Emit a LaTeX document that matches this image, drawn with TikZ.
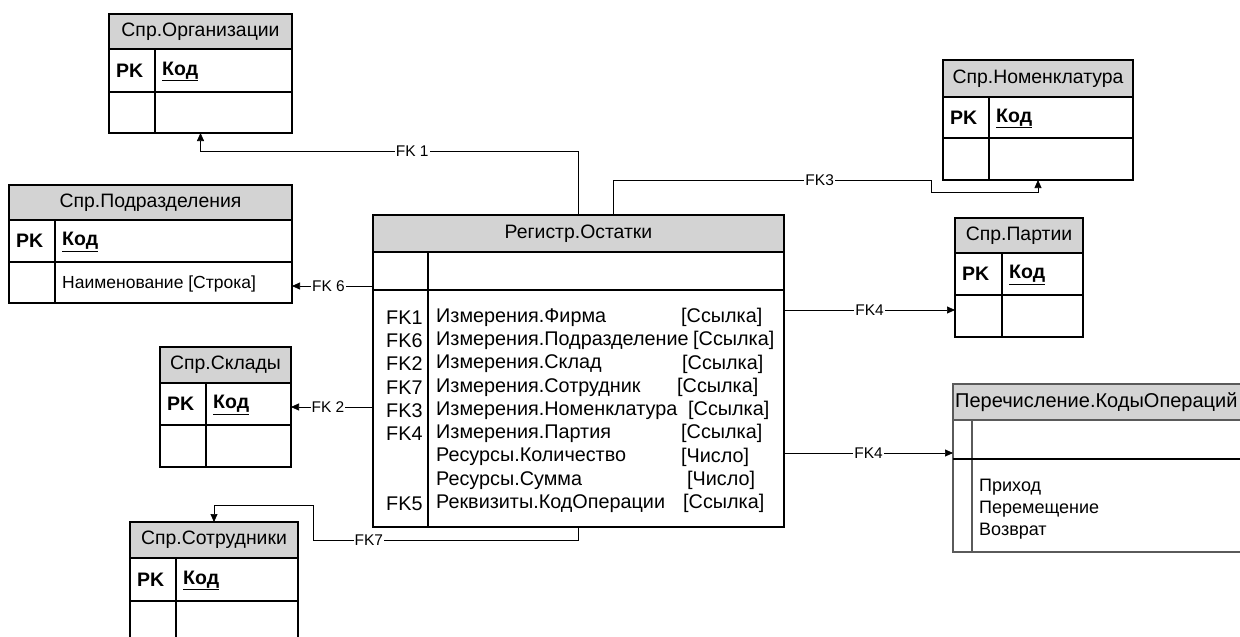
\documentclass[tikz,border=0pt]{standalone}
\usepackage{fontspec}
\setmainfont{Liberation Sans}
\usetikzlibrary{arrows.meta,fit}
\definecolor{hdrgray}{RGB}{211,211,211}
\definecolor{enumgray}{RGB}{90,90,90}
\tikzset{
  tblbox/.style={draw=black, line width=1.1pt, inner sep=0pt, outer sep=0pt},
  tline/.style={draw=black, line width=1.1pt},
  fkline/.style={draw=black, line width=0.7pt, -{Triangle[length=8pt,width=7pt]}},
  fklbl/.style={fill=white, inner sep=1pt, font=\fontsize{15.5}{17}\selectfont},
  ttl/.style={inner sep=0pt, font=\fontsize{19.4}{22}\selectfont},
  celltxt/.style={anchor=west, inner sep=0pt, font=\fontsize{18}{21}\selectfont},
  keytxt/.style={anchor=west, inner sep=0pt, font=\fontsize{19.5}{22}\selectfont\bfseries},
  rowtxt/.style={anchor=west, inner sep=0pt, font=\fontsize{19.8}{23}\selectfont},
}
\newcommand\pktable[9]{%
  \fill[hdrgray] (#2,#4) rectangle (#3,#5);
  \node[tblbox, fit={(#2,#4) (#3,#7)}] (#1) {};
  \draw[tline] (#2,#5) -- (#3,#5) (#2,#6) -- (#3,#6) (#8,#5) -- (#8,#7);
  \node[ttl] (#1-title) at ({(#2+#3)/2},{(#4+#5)/2}) {#9};
  \node[keytxt] (#1-pk) at ({#2+7},{(#5+#6)/2}) {PK};
  \node[keytxt] (#1-key) at ({#8+7},{(#5+#6)/2+1}) {\underline{Код}};
}
\begin{document}
\begin{tikzpicture}[x=1pt,y=-1pt]
\useasboundingbox (0,0) rectangle (1240,637);
\clip (0,0) rectangle (1240,637);
\fill[white] (0,0) rectangle (1240,637);

% reference tables
\pktable{org}{109}{292}{14}{49}{92}{133}{155}{Спр.Организации}
\pktable{pod}{9}{292}{185}{220}{262}{303}{55}{Спр.Подразделения}
\node[celltxt, font=\fontsize{17.5}{20}\selectfont] (pod-name) at (62,284) {Наименование [Строка]};
\pktable{skl}{160}{291}{347}{383}{425}{467}{206}{Спр.Склады}
\pktable{sot}{130}{298}{522}{558}{601}{660}{176}{Спр.Сотрудники}
\pktable{nom}{943}{1133}{60}{97}{138}{180}{989}{Спр.Номенклатура}
\pktable{par}{955}{1083}{218}{253}{295}{337}{1002}{Спр.Партии}

% central register table
\fill[hdrgray] (373,215) rectangle (784,252);
\node[tblbox, fit={(373,215) (784,527)}] (reg) {};
\draw[tline] (373,252) -- (784,252) (373,290) -- (784,290) (428,252) -- (428,527);
\node[ttl] (reg-title) at (578.5,233.5) {Регистр.Остатки};
\foreach \fk/\nm/\ty/\tx [count=\i] in {
  FK1/Измерения.Фирма/[Ссылка]/681,
  FK6/Измерения.Подразделение/[Ссылка]/693,
  FK2/Измерения.Склад/[Ссылка]/682,
  FK7/Измерения.Сотрудник/[Ссылка]/677,
  FK3/Измерения.Номенклатура/[Ссылка]/688,
  FK4/Измерения.Партия/[Ссылка]/681,
  /Ресурсы.Количество/[Число]/681,
  /Ресурсы.Сумма/[Число]/687,
  FK5/Реквизиты.КодОперации/[Ссылка]/683}{
  \node[rowtxt] (fk\i) at (386,{294+23.3*\i}) {\fk};
  \node[rowtxt] (nm\i) at (436,{294+23.3*\i}) {\nm};
  \node[rowtxt] (ty\i) at (\tx,{294+23.3*\i}) {\ty};
}

% enumeration table (open at right)
\fill[hdrgray] (953,384) rectangle (1250,420);
\node[fit={(953,384) (1250,552)}, inner sep=0pt, outer sep=0pt, draw=enumgray, line width=1.1pt] (enum) {};
\draw[draw=enumgray, line width=1.1pt] (953,420) -- (1250,420) (972,420) -- (972,552);
\draw[tline] (953,459) -- (1250,459);
\node[ttl, anchor=west, font=\fontsize{20}{23}\selectfont] (enum-title) at (955,402) {Перечисление.КодыОпераций};
\node[celltxt] (en1) at (979,487) {Приход};
\node[celltxt] (en2) at (979,509) {Перемещение};
\node[celltxt] (en3) at (979,531) {Возврат};

% connectors
\coordinate (r3) at (613,215);
\draw[fkline] (reg.north) |- node[fklbl, pos=0.72]{FK 1} (org.south |- 0,151) -- (org.south);
\draw[fkline] (r3) -- (613,180) -- node[fklbl, pos=0.65]{FK3} (931,180) -- (931,192) -- (nom.south |- 0,192) -- (nom.south);
\draw[fkline] (reg.west |- 0,286) -- node[fklbl, pos=0.55]{FK 6} (pod.east |- 0,286);
\draw[fkline] (reg.west |- 0,407) -- node[fklbl, pos=0.55]{FK 2} (skl.east |- 0,407);
\draw[fkline] (reg.east |- 0,310) -- node[fklbl, pos=0.5]{FK4} (par.west |- 0,310);
\draw[fkline] (reg.east |- 0,453) -- node[fklbl, pos=0.5]{FK4} (enum.west |- 0,453);
\draw[fkline] (reg.south) -- (reg.south |- 0,540) -- node[fklbl, pos=0.79]{FK7} (313,540) -- (313,505) -- (sot.north |- 0,505) -- (sot.north);
\end{tikzpicture}
\end{document}
